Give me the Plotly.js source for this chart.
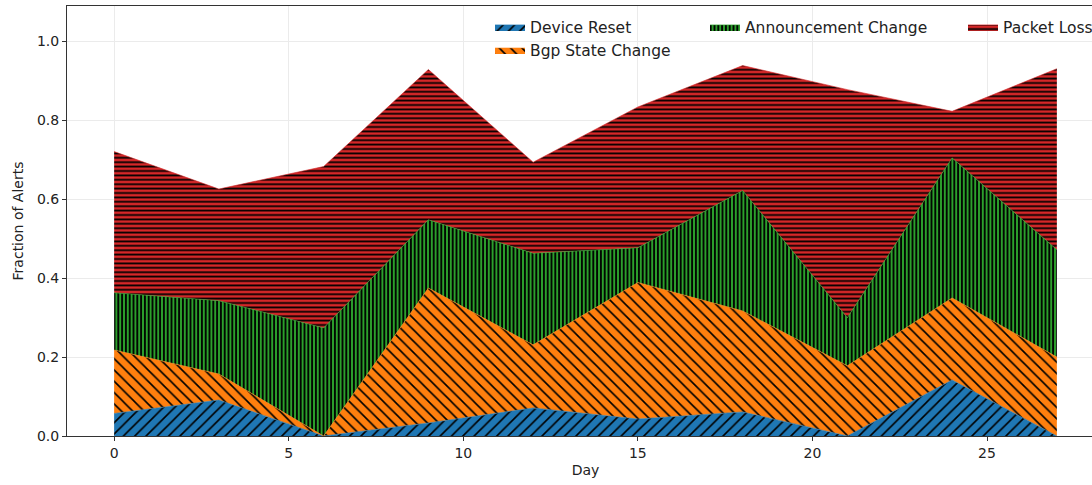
<!DOCTYPE html>
<html>
<head>
<meta charset="utf-8">
<script src="https://cdn.plot.ly/plotly-3.0.1.min.js"></script>
<style>
html,body{margin:0;padding:0;overflow:hidden;background:#fff;}
#chart{width:1140px;height:485px;}
</style>
</head>
<body>
<div id="chart"></div>
<script>
const days = [0, 3, 6, 9, 12, 15, 18, 21, 24, 27];
const deviceReset = [0.057, 0.091, 0.0, 0.033, 0.071, 0.043, 0.061, 0.0, 0.142, 0.0];
const bgpStateChange = [0.161, 0.066, 0.0, 0.342, 0.160, 0.346, 0.256, 0.178, 0.208, 0.200];
const announcementChange = [0.145, 0.186, 0.274, 0.173, 0.232, 0.088, 0.305, 0.122, 0.355, 0.272];
const packetLoss = [0.358, 0.283, 0.409, 0.381, 0.231, 0.357, 0.317, 0.578, 0.118, 0.459];
const seriesNames = ['Device Reset', 'Bgp State Change', 'Announcement Change', 'Packet Loss'];
const xTicks = [0, 5, 10, 15, 20, 25];
const yTicks = [0, 0.2, 0.4, 0.6, 0.8, 1.0];

const colors = ['#1f77b4', '#ff7f0e', '#2ca02c', '#d62728'];
const shapes = ['/', '\\', '|', '-'];
const sizes = [8, 8, 3.8, 4.4];
const solid = [0.2, 0.2, 0.48, 0.4];
const legends = ['legend', 'legend', 'legend2', 'legend3'];
const vals = [deviceReset, bgpStateChange, announcementChange, packetLoss];

const traces = vals.map((v, i) => ({
  x: days, y: v, name: seriesNames[i], type: 'scatter', mode: 'lines',
  stackgroup: 'one', line: {width: 0.6, color: colors[i]},
  fillcolor: colors[i],
  fillpattern: {shape: shapes[i], bgcolor: colors[i], fgcolor: '#000000', fgopacity: 1, size: sizes[i], solidity: solid[i]},
  legend: legends[i], legendgroup: 'g' + i, hoverinfo: 'x+y'
}));

const legFont = {family: 'DejaVu Sans', size: 15.5, color: '#222'};
const W = 1140;
const layout = {
  width: W, height: 485,
  margin: {l: 67, r: W - 1104, t: 6, b: 49},
  paper_bgcolor: '#fff', plot_bgcolor: '#fff',
  font: {family: 'DejaVu Sans', size: 14, color: '#222'},
  xaxis: {
    range: [-1.35, 28.35], tickvals: xTicks, ticktext: xTicks.map(String),
    showgrid: true, gridcolor: '#ebebeb', gridwidth: 1, zeroline: false,
    showline: true, linecolor: '#333', linewidth: 1, mirror: true,
    ticks: 'outside', ticklen: 4, tickcolor: '#333',
    title: {text: 'Day', font: {size: 14}, standoff: 5}
  },
  yaxis: {
    range: [0, 1.09], tickvals: yTicks, ticktext: yTicks.map(v => v.toFixed(1)),
    showgrid: true, gridcolor: '#ebebeb', gridwidth: 1, zeroline: false,
    showline: true, linecolor: '#333', linewidth: 1, mirror: true,
    ticks: 'outside', ticklen: 4, tickcolor: '#333',
    title: {text: 'Fraction of Alerts', font: {size: 14}, standoff: 10}
  },
  showlegend: true,
  legend: {x: (490 - 67) / 1037, y: 0.99, xanchor: 'left', yanchor: 'top', bgcolor: 'rgba(0,0,0,0)', font: legFont, traceorder: 'grouped', itemwidth: 30, tracegroupgap: 0},
  legend2: {x: (705 - 67) / 1037, y: 0.99, xanchor: 'left', yanchor: 'top', bgcolor: 'rgba(0,0,0,0)', font: legFont, itemwidth: 30},
  legend3: {x: (963 - 67) / 1037, y: 0.99, xanchor: 'left', yanchor: 'top', bgcolor: 'rgba(0,0,0,0)', font: legFont, itemwidth: 30}
};

Plotly.newPlot('chart', traces, layout, {displayModeBar: false, staticPlot: true});
</script>
</body>
</html>
